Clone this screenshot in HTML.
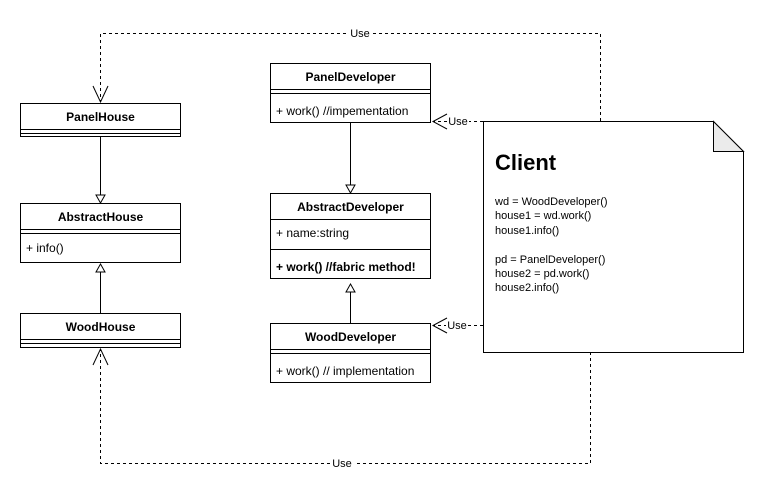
<!DOCTYPE html>
<html><head><meta charset="utf-8"><style>
html,body{margin:0;padding:0;background:#fff;}
svg{display:block;font-family:"Liberation Sans",Arial,sans-serif;}
</style></head><body>
<svg width="764" height="498" viewBox="0 0 764 498" xmlns="http://www.w3.org/2000/svg">
<g fill="none" stroke="#000" stroke-width="1">
<!-- dashed use lines -->
<path d="M600.5 121 V33.5 H100.5 V102" stroke-dasharray="3,3"/>
<path d="M93 86 L100.5 102 L108 86"/>
<path d="M590.5 352 V463.5 H100.5 V349" stroke-dasharray="3,3"/>
<path d="M93 365 L100.5 349 L108 365"/>
<path d="M483 121.5 H433" stroke-dasharray="3,3"/>
<path d="M447 114 L433 121.5 L447 129"/>
<path d="M483 325.5 H433" stroke-dasharray="3,3"/>
<path d="M447 318 L433 325.5 L447 333"/>
<!-- inheritance -->
<path d="M100.5 137 V195"/><path d="M96 195 H105 L100.5 203 Z"/>
<path d="M100.5 313 V272"/><path d="M96 272 H105 L100.5 264 Z"/>
<path d="M350.5 123 V185"/><path d="M346 185 H355 L350.5 193 Z"/>
<path d="M350.5 323 V292"/><path d="M346 292 H355 L350.5 284 Z"/>
</g>
<g fill="#fff" stroke="#000">
<rect x="20.5" y="103.5" width="160" height="33"/>
<rect x="20.5" y="203.5" width="160" height="59"/>
<rect x="20.5" y="313.5" width="160" height="34"/>
<rect x="270.5" y="63.5" width="160" height="59"/>
<rect x="270.5" y="193.5" width="160" height="85"/>
<rect x="270.5" y="323.5" width="160" height="59"/>
<path d="M483.5 121.5 H713.5 L743.5 151.5 V352.5 H483.5 Z"/>
</g>
<path d="M713.5 121.5 V151.5 H743.5 Z" fill="#ebebeb" stroke="#000"/>
<g stroke="#000" fill="none">
<path d="M20 129.5H181M20 133.5H181"/>
<path d="M20 229.5H181M20 233.5H181"/>
<path d="M20 339.5H181M20 343.5H181"/>
<path d="M270 89.5H431M270 93.5H431"/>
<path d="M270 219.5H431M270 249.5H431"/>
<path d="M270 349.5H431M270 353.5H431"/>
</g>
<g font-size="12" fill="#000">
<rect x="348" y="27" width="24" height="12" fill="#fff"/>
<text x="360" y="37" text-anchor="middle" font-size="11">Use</text>
<rect x="330" y="457" width="24" height="12" fill="#fff"/>
<text x="342" y="467" text-anchor="middle" font-size="11">Use</text>
<rect x="447" y="115" width="22" height="12" fill="#fff"/>
<text x="458" y="125" text-anchor="middle" font-size="11">Use</text>
<rect x="446" y="319" width="22" height="12" fill="#fff"/>
<text x="457" y="329" text-anchor="middle" font-size="11">Use</text>
<g font-weight="bold" text-anchor="middle">
<text x="100.5" y="121">PanelHouse</text>
<text x="100.5" y="221">AbstractHouse</text>
<text x="100.5" y="331">WoodHouse</text>
<text x="350.5" y="81">PanelDeveloper</text>
<text x="350.5" y="211">AbstractDeveloper</text>
<text x="350.5" y="341">WoodDeveloper</text>
</g>
<text x="26" y="252">+ info()</text>
<text x="276" y="115">+ work() //impementation</text>
<text x="276" y="237">+ name:string</text>
<text x="276" y="271" font-weight="bold">+ work() //fabric method!</text>
<text x="276" y="375">+ work() // implementation</text>
<text x="495" y="170" font-size="22" font-weight="bold">Client</text>
<g font-size="11">
<text x="495" y="205">wd = WoodDeveloper()</text>
<text x="495" y="219">house1 = wd.work()</text>
<text x="495" y="234">house1.info()</text>
<text x="495" y="263">pd = PanelDeveloper()</text>
<text x="495" y="277">house2 = pd.work()</text>
<text x="495" y="291">house2.info()</text>
</g>
</g>
</svg>
</body></html>
